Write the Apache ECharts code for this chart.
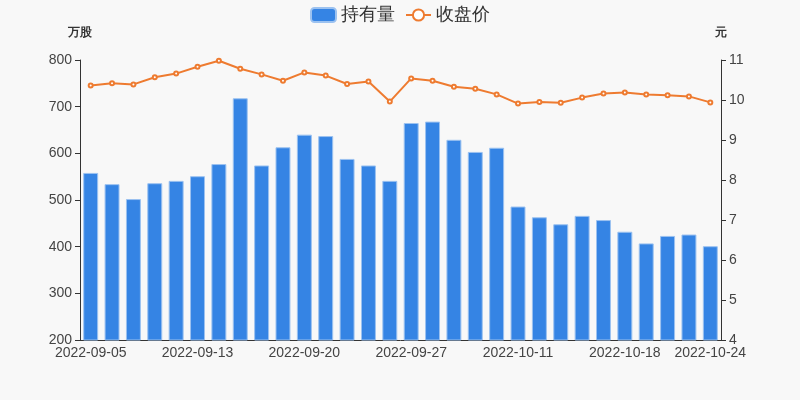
<!DOCTYPE html>
<html>
<head>
<meta charset="utf-8">
<script src="https://cdn.jsdelivr.net/npm/echarts@6/dist/echarts.min.js"></script>
<style>
html,body{margin:0;padding:0;background:#f8f8f8;}
#main{width:800px;height:400px;}
</style>
</head>
<body>
<div id="main"></div>
<script>
var dates = ['2022-09-05','2022-09-06','2022-09-07','2022-09-08','2022-09-09',
  '2022-09-13','2022-09-14','2022-09-15','2022-09-16','2022-09-19',
  '2022-09-20','2022-09-21','2022-09-22','2022-09-23','2022-09-26',
  '2022-09-27','2022-09-28','2022-09-29','2022-09-30','2022-10-10',
  '2022-10-11','2022-10-12','2022-10-13','2022-10-14','2022-10-17',
  '2022-10-18','2022-10-19','2022-10-20','2022-10-21','2022-10-24'];
var holdings = [558, 534, 502, 536, 541, 551, 577, 718, 574, 613,
  640, 637, 588, 574, 541, 665, 668, 629, 603, 612,
  486, 463, 448, 466, 457, 432, 407, 423, 426, 401];
var closePrice = [10.36, 10.42, 10.39, 10.57, 10.66, 10.83, 10.98, 10.78, 10.64, 10.48,
  10.69, 10.61, 10.40, 10.46, 9.96, 10.54, 10.48, 10.33, 10.28, 10.14,
  9.91, 9.95, 9.93, 10.06, 10.16, 10.19, 10.14, 10.12, 10.09, 9.94];
var seriesNames = ['持有量', '收盘价'];
var axisNames = ['万股', '元'];

var chart = echarts.init(document.getElementById('main'), null, {renderer: 'canvas'});
var showIdx = function (i) { return i % 5 === 0 || i === dates.length - 1; };
chart.setOption({
  backgroundColor: '#f8f8f8',
  animation: false,
  legend: {
    top: 1,
    left: 'center',
    itemWidth: 25,
    itemHeight: 14,
    itemGap: 10,
    textStyle: {fontSize: 18, color: '#333'},
    data: [{name: seriesNames[0], icon: 'roundRect'}, {name: seriesNames[1]}]
  },
  grid: {left: 80, right: 79, top: 60, bottom: 60},
  xAxis: {
    type: 'category',
    data: dates,
    boundaryGap: true,
    axisLine: {lineStyle: {color: '#333'}},
    axisTick: {interval: function (i) { return showIdx(i); }},
    axisLabel: {interval: function (i) { return showIdx(i); }, fontSize: 14, color: '#444', margin: 6}
  },
  yAxis: [{
    type: 'value',
    name: axisNames[0],
    min: 200, max: 800, interval: 100,
    nameGap: 21,
    nameTextStyle: {fontWeight: 'bold', fontSize: 12, color: '#333'},
    axisLine: {show: true, lineStyle: {color: '#333'}},
    axisTick: {show: true},
    splitLine: {show: false},
    axisLabel: {fontSize: 14, color: '#444'}
  }, {
    type: 'value',
    name: axisNames[1],
    min: 4, max: 11, interval: 1,
    nameGap: 21,
    nameTextStyle: {fontWeight: 'bold', fontSize: 12, color: '#333'},
    axisLine: {show: true, lineStyle: {color: '#333'}},
    axisTick: {show: true},
    splitLine: {show: false},
    axisLabel: {fontSize: 14, color: '#444'}
  }],
  series: [{
    name: seriesNames[0],
    type: 'bar',
    data: holdings,
    barWidth: '70%',
    itemStyle: {color: '#3584e4', borderColor: '#9cc2f0', borderWidth: 1}
  }, {
    name: seriesNames[1],
    type: 'line',
    yAxisIndex: 1,
    data: closePrice,
    symbol: 'emptyCircle',
    symbolSize: 4,
    lineStyle: {color: '#ee7b30', width: 2},
    itemStyle: {color: '#ee7b30', borderWidth: 1}
  }]
});
</script>
</body>
</html>
